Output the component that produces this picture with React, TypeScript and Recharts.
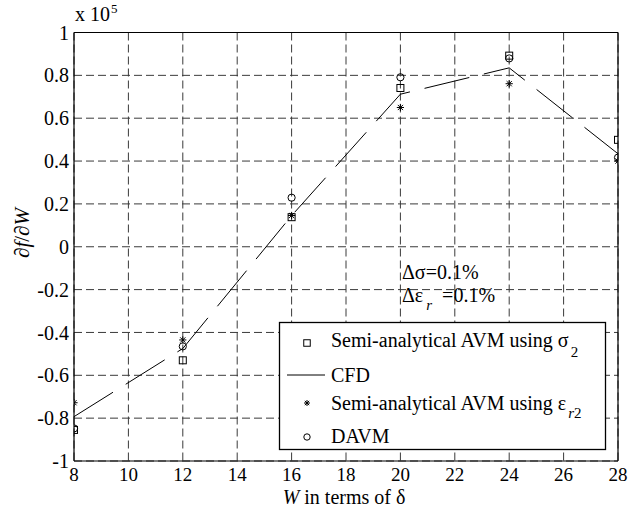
import React from "react";
import { ComposedChart, Line, XAxis, YAxis, CartesianGrid, Legend } from "recharts";

// W in terms of delta
const W_VALUES = [8, 12, 16, 20, 24, 28];
// df/dW, in units of 1e5
const CFD = [-0.793, -0.475, 0.145, 0.712, 0.835, 0.434];
const SIGMA2 = [-0.855, -0.53, 0.138, 0.741, 0.892, 0.499];
const EPS_R2 = [-0.728, -0.435, 0.146, 0.65, 0.761, 0.4];
const DAVM = [-0.848, -0.465, 0.229, 0.791, 0.879, 0.416];

const X_TICKS = [8, 10, 12, 14, 16, 18, 20, 22, 24, 26, 28];
const Y_TICKS = [-1, -0.8, -0.6, -0.4, -0.2, 0, 0.2, 0.4, 0.6, 0.8, 1];

const rows = W_VALUES.map((w, i) => ({
  w,
  cfd: CFD[i],
  sigma: SIGMA2[i],
  eps: EPS_R2[i],
  davm: DAVM[i],
}));

const FONT = "'Liberation Serif', 'Times New Roman', serif";
const INK = "#000";
const GRID = "#3a3a3a";
const serif = { fontFamily: FONT };

function SquareDot({ cx, cy, s = 7 }: any) {
  if (cx == null || cy == null) return <g />;
  return <rect x={cx - s / 2} y={cy - s / 2} width={s} height={s} fill="none" stroke={INK} strokeWidth={1} />;
}

function CircleDot({ cx, cy, r = 3.6 }: any) {
  if (cx == null || cy == null) return <g />;
  return <circle cx={cx} cy={cy} r={r} fill="none" stroke={INK} strokeWidth={1} />;
}

function StarDot({ cx, cy, h = 3.6 }: any) {
  if (cx == null || cy == null) return <g />;
  const d = h * 0.72;
  return (
    <g stroke={INK} strokeWidth={1}>
      <line x1={cx - h} y1={cy} x2={cx + h} y2={cy} />
      <line x1={cx} y1={cy - h} x2={cx} y2={cy + h} />
      <line x1={cx - d} y1={cy - d} x2={cx + d} y2={cy + d} />
      <line x1={cx - d} y1={cy + d} x2={cx + d} y2={cy - d} />
    </g>
  );
}

function LegendBox() {
  return (
    <svg width={327} height={128} style={{ display: "block", overflow: "visible", ...serif }} fontSize={20}>
      <rect x={0.5} y={0.5} width={326} height={127} fill="#fff" stroke={INK} strokeWidth={1.3} />
      <SquareDot cx={28} cy={21} s={6.5} />
      <text x={52} y={25} style={serif}>
        Semi-analytical AVM using σ<tspan dx={2} dy={10} fontSize={15}>2</tspan>
      </text>
      <line x1={8} y1={53} x2={46} y2={53} stroke={INK} strokeWidth={1} />
      <text x={52} y={60} style={serif}>CFD</text>
      <StarDot cx={28} cy={81} h={3} />
      <text x={52} y={88} style={serif}>
        Semi-analytical AVM using ε<tspan dx={2} dy={8} fontSize={15} fontStyle="italic">r</tspan>
        <tspan fontSize={15}>2</tspan>
      </text>
      <CircleDot cx={28} cy={115} r={3.2} />
      <text x={52} y={121} style={serif}>DAVM</text>
    </svg>
  );
}

function XTitle() {
  return (
    <text x={344} y={504} textAnchor="middle" style={serif} fontSize={20} fill={INK}>
      <tspan fontStyle="italic">W</tspan> in terms of δ
    </text>
  );
}

function YTitle() {
  return (
    <text transform="translate(29,233) rotate(-90)" textAnchor="middle" style={serif} fontSize={21} fill={INK}>
      ∂<tspan fontStyle="italic">f</tspan>/∂<tspan fontStyle="italic">W</tspan>
    </text>
  );
}

const fmtY = (v: number) => String(Math.round(v * 10) / 10);

export default function App() {
  const tickStyle = { fill: INK, fontSize: 20, fontFamily: FONT };
  return (
    <div style={{ position: "fixed", left: 0, top: 0, width: 636, height: 508, background: "#fff", ...serif }}>
      <ComposedChart width={636} height={508} data={rows} margin={{ top: 32.5, right: 18, bottom: 17, left: 14 }} style={serif}>
        <CartesianGrid stroke={GRID} strokeDasharray="8 4" strokeWidth={1} />
        <XAxis
          dataKey="w"
          type="number"
          domain={[8, 28]}
          ticks={X_TICKS}
          allowDataOverflow
          height={30}
          tickSize={0}
          tickMargin={7}
          tickLine={false}
          axisLine={{ stroke: INK, strokeWidth: 1.2 }}
          tick={{ ...tickStyle, fontSize: 19 }}
          label={<XTitle />}
        />
        <XAxis
          xAxisId="top"
          orientation="top"
          mirror
          type="number"
          domain={[8, 28]}
          ticks={X_TICKS}
          allowDataOverflow
          tick={false}
          tickSize={6}
          tickLine={{ stroke: INK }}
          axisLine={{ stroke: INK, strokeWidth: 1.2 }}
        />
        <XAxis
          xAxisId="bottomTicks"
          orientation="bottom"
          mirror
          type="number"
          domain={[8, 28]}
          ticks={X_TICKS}
          allowDataOverflow
          tick={false}
          tickSize={6}
          tickLine={{ stroke: INK }}
          axisLine={false}
        />
        <YAxis
          type="number"
          domain={[-1, 1]}
          ticks={Y_TICKS}
          allowDataOverflow
          width={60}
          tickSize={0}
          tickMargin={5}
          tickLine={false}
          axisLine={{ stroke: INK, strokeWidth: 1.2 }}
          tick={tickStyle}
          tickFormatter={fmtY}
          label={<YTitle />}
        />
        <YAxis
          yAxisId="leftTicks"
          orientation="left"
          mirror
          type="number"
          domain={[-1, 1]}
          ticks={Y_TICKS}
          allowDataOverflow
          tick={false}
          tickSize={6}
          tickLine={{ stroke: INK }}
          axisLine={false}
        />
        <YAxis
          yAxisId="right"
          orientation="right"
          mirror
          type="number"
          domain={[-1, 1]}
          ticks={Y_TICKS}
          allowDataOverflow
          tick={false}
          tickSize={6}
          tickLine={{ stroke: INK }}
          axisLine={{ stroke: INK, strokeWidth: 1.2 }}
        />
        <Legend
          layout="vertical"
          align="center"
          verticalAlign="middle"
          wrapperStyle={{ left: 279, top: 322, width: 327, height: 128 }}
          content={() => <LegendBox />}
        />
        <Line
          dataKey="cfd"
          name="CFD"
          type="linear"
          stroke={INK}
          strokeWidth={1}
          strokeDasharray="46 15"
          dot={false}
          activeDot={false}
          isAnimationActive={false}
        />
        <Line dataKey="sigma" name="Semi-analytical AVM using σ2" stroke="none" dot={(p: any) => <SquareDot key={p.index} cx={p.cx} cy={p.cy} />} activeDot={false} isAnimationActive={false} />
        <Line dataKey="eps" name="Semi-analytical AVM using εr2" stroke="none" dot={(p: any) => <StarDot key={p.index} cx={p.cx} cy={p.cy} />} activeDot={false} isAnimationActive={false} />
        <Line dataKey="davm" name="DAVM" stroke="none" dot={(p: any) => <CircleDot key={p.index} cx={p.cx} cy={p.cy} />} activeDot={false} isAnimationActive={false} />
      </ComposedChart>
      <svg
        width={636}
        height={508}
        style={{ position: "absolute", left: 0, top: 0, pointerEvents: "none", ...serif }}
        fill={INK}
      >
        <text x={75} y={21} fontSize={20} style={serif}>
          x 10<tspan dx={1} dy={-8} fontSize={13}>5</tspan>
        </text>
        <text x={402} y={278.5} fontSize={20} style={serif}>Δσ=0.1%</text>
        <text x={402} y={301.5} fontSize={20} style={serif}>
          Δε<tspan dx={3} dy={8} fontSize={15} fontStyle="italic">r</tspan>
          <tspan dx={10} dy={-8}>=0.1%</tspan>
        </text>
      </svg>
    </div>
  );
}
